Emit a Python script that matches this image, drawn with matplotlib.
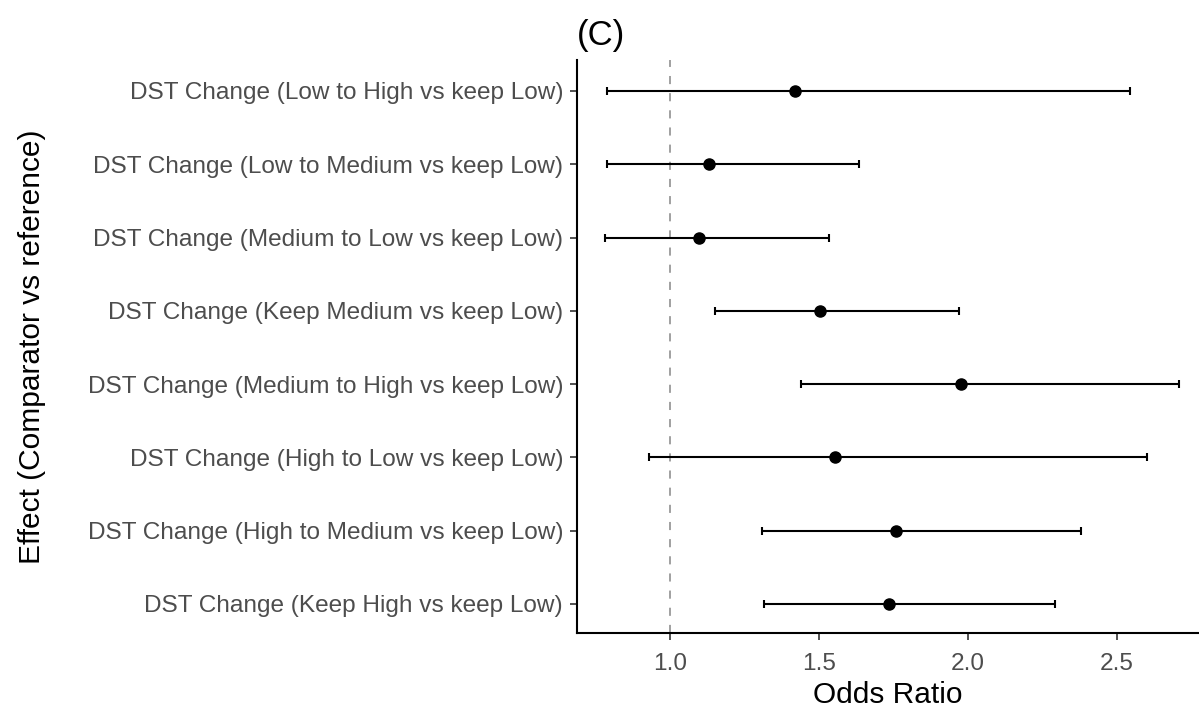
import matplotlib
matplotlib.use("Agg")
import matplotlib.pyplot as plt

plt.rcParams['font.family'] = ['Liberation Sans', 'DejaVu Sans']

labels = [
    "DST Change (Low to High vs keep Low)",
    "DST Change (Low to Medium vs keep Low)",
    "DST Change (Medium to Low vs keep Low)",
    "DST Change (Keep Medium vs keep Low)",
    "DST Change (Medium to High vs keep Low)",
    "DST Change (High to Low vs keep Low)",
    "DST Change (High to Medium vs keep Low)",
    "DST Change (Keep High vs keep Low)",
]
odds_ratio = [1.418, 1.131, 1.097, 1.505, 1.977, 1.553, 1.760, 1.734]
ci_lower = [0.788, 0.788, 0.781, 1.150, 1.439, 0.929, 1.310, 1.317]
ci_upper = [2.545, 1.634, 1.533, 1.969, 2.708, 2.601, 2.379, 2.292]
x_ticks = [1.0, 1.5, 2.0, 2.5]

W, H = 1199, 710
fig = plt.figure(figsize=(W / 100, H / 100), dpi=100)
ax = fig.add_axes([577 / W, 1 - 633 / H, 1 - 577 / W, (633 - 60) / H])

n = len(labels)
ypos = [n - i for i in range(n)]

ax.axvline(1.0, color='#999999', linestyle=(0, (4.5, 5)), linewidth=1.3, zorder=1)
err_lo = [o - l for o, l in zip(odds_ratio, ci_lower)]
err_hi = [u - o for o, u in zip(odds_ratio, ci_upper)]
ax.errorbar(odds_ratio, ypos, xerr=[err_lo, err_hi], fmt='none', ecolor='black',
            elinewidth=1.5, capsize=3, capthick=1.5, zorder=2)
ax.plot(odds_ratio, ypos, 'o', color='black', markersize=8, zorder=3)

ax.set_xlim(0.688, 2.775)
ax.set_ylim(0.604, 8.423)
ax.set_yticks(ypos)
ax.set_yticklabels(labels)
ax.set_xticks(x_ticks)
ax.set_xticklabels([f"{t:.1f}" for t in x_ticks])

for s in ['top', 'right']:
    ax.spines[s].set_visible(False)
for s in ['left', 'bottom']:
    ax.spines[s].set_linewidth(1.5)
    ax.spines[s].set_color('black')

ax.tick_params(axis='both', length=5, width=1.2, color='#333333',
               labelcolor='#4d4d4d', labelsize=17.6)
ax.tick_params(axis='x', pad=9.4)
ax.tick_params(axis='y', pad=5)

ax.set_xlabel("Odds Ratio", fontsize=21.5, color='black', labelpad=4)
ax.set_ylabel("Effect (Comparator vs reference)", fontsize=21.5, color='black', labelpad=30)
ax.set_title("(C)", loc='left', fontsize=25, color='black', pad=11)

fig.savefig("out.png", dpi=100)
